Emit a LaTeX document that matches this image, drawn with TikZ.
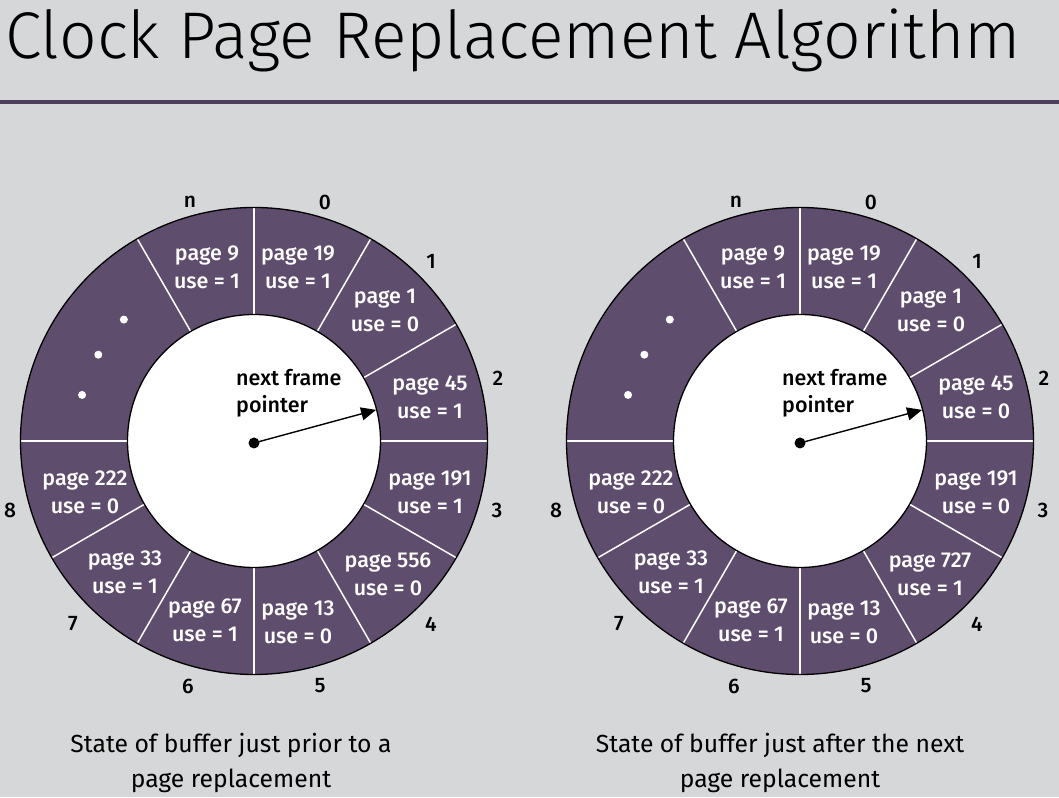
\documentclass[tikz,border=0pt]{standalone}
\usepackage{fontspec}
\setmainfont{Fira Sans}
\IfFontExistsTF{Fira Sans Light}{\newfontfamily\titlefont{Fira Sans Light}}{%
  \IfFontExistsTF{Open Sans Light}{\newfontfamily\titlefont{Open Sans Light}}{\newfontfamily\titlefont{Fira Sans}}}
\IfFontExistsTF{Fira Sans Medium}{\newfontfamily\labfont{Fira Sans Medium}}{%
  \newfontfamily\labfont{Fira Sans}[UprightFeatures={FakeBold=1.2}]}
\usetikzlibrary{arrows.meta}
\definecolor{bg}{RGB}{214,215,217}
\definecolor{ringfill}{RGB}{95,77,110}
\definecolor{rulecol}{RGB}{78,64,92}
\tikzset{
  pagelbl/.style={text=white, font=\labfont\fontsize{21.5}{28}\selectfont, align=center, inner sep=0pt},
  numlbl/.style={text=black, font=\labfont\fontsize{21}{24}\selectfont, inner sep=0pt},
  divider/.style={white, line width=1.5pt},
  rim/.style={black, line width=1.3pt},
  caption/.style={font=\fontsize{24.7}{35}\selectfont, align=center, inner sep=0pt},
  ptrlbl/.style={text=black, font=\labfont\fontsize{21.5}{27}\selectfont, align=left, inner sep=0pt, anchor=west},
}
\newcommand\clockring[1]{%
  \fill[ringfill, even odd rule] (0,0) circle[radius=233.5] (0,0) circle[radius=126.5];
  \fill[white] (0,0) circle[radius=126.5];
  \foreach \a in {90,60,30,0,-30,-60,-90,-120,-150,180,120}
    \draw[divider] (\a:126.5) -- (\a:233.5);
  \draw[rim] (0,0) circle[radius=233.5];
  \draw[rim] (0,0) circle[radius=126.5];
  \foreach \a in {137,151,165}
    \fill[white] (\a:178) circle[radius=4];
  \node[numlbl] (#1n) at (-64,239) {n};
  \node[numlbl] (#1z) at (71,239) {0};
  \node[numlbl] (#1a) at (177,180) {1};
  \node[numlbl] (#1b) at (244,63) {2};
  \node[numlbl] (#1c) at (243,-69) {3};
  \node[numlbl] (#1d) at (177,-183) {4};
  \node[numlbl] (#1e) at (66,-245) {5};
  \node[numlbl] (#1f) at (-66,-245) {6};
  \node[numlbl] (#1g) at (-181,-183) {7};
  \node[numlbl] (#1h) at (-244,-69) {8};
  \node[ptrlbl] (#1ptrtext) at (-18,48) {next frame\\pointer};
  \fill[black] (0,-2) circle[radius=5.5];
  \coordinate (#1center) at (0,-2);
  \coordinate (#1tip) at (14.3:126);
  \draw[black, line width=1.4pt, -{Triangle[length=15pt,width=13pt]}] (#1center) -- (#1tip);
}
\begin{document}
\begin{tikzpicture}[x=1pt,y=1pt]
\fill[bg] (0,0) rectangle (1059,797);
\useasboundingbox (0,0) rectangle (1059,797);
\node[anchor=base west, inner sep=0pt, font=\titlefont\fontsize{66}{80}\selectfont] (title) at (5,738) {Clock Page Replacement Algorithm};
\draw[rulecol, line width=4pt] (0,695) -- (1059,695);

% left ring
\begin{scope}[shift={(254,356)}]
  \clockring{L}
  \node[pagelbl] (L9)   at (-47,174) {page 9\\use = 1};
  \node[pagelbl] (L19)  at (44,174)  {page 19\\use = 1};
  \node[pagelbl] (L1)   at (131,131) {page 1\\use = 0};
  \node[pagelbl] (L45)  at (176,44)  {page 45\\use = 1};
  \node[pagelbl] (L191) at (176,-51) {page 191\\use = 1};
  \node[pagelbl] (L556) at (134,-133) {page 556\\use = 0};
  \node[pagelbl] (L13)  at (44,-181) {page 13\\use = 0};
  \node[pagelbl] (L67)  at (-49,-179) {page 67\\use = 1};
  \node[pagelbl] (L33)  at (-129,-131) {page 33\\use = 1};
  \node[pagelbl] (L222) at (-169,-51) {page 222\\use = 0};
\end{scope}

% right ring
\begin{scope}[shift={(800,356)}]
  \clockring{R}
  \node[pagelbl] (R9)   at (-47,174) {page 9\\use = 1};
  \node[pagelbl] (R19)  at (44,174)  {page 19\\use = 1};
  \node[pagelbl] (R1)   at (131,131) {page 1\\use = 0};
  \node[pagelbl] (R45)  at (176,44)  {page 45\\use = 0};
  \node[pagelbl] (R191) at (176,-51) {page 191\\use = 0};
  \node[pagelbl] (R727) at (130,-133) {page 727\\use = 1};
  \node[pagelbl] (R13)  at (44,-181) {page 13\\use = 0};
  \node[pagelbl] (R67)  at (-49,-179) {page 67\\use = 1};
  \node[pagelbl] (R33)  at (-129,-131) {page 33\\use = 1};
  \node[pagelbl] (R222) at (-169,-51) {page 222\\use = 0};
\end{scope}

\node[caption] (capL) at (231,34) {State of buffer just prior to a\\page replacement};
\node[caption] (capR) at (780,34) {State of buffer just after the next\\page replacement};
\end{tikzpicture}
\end{document}
